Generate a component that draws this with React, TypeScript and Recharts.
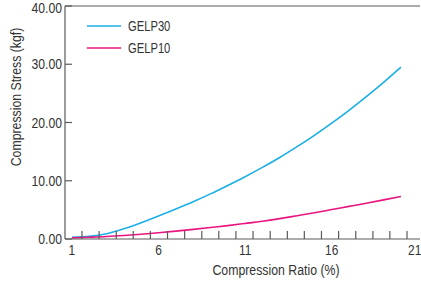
import React from "react";
import { LineChart, Line, XAxis, YAxis, Legend, ReferenceLine } from "recharts";

const ratios = [1, 2, 3, 4, 5, 6, 7, 8, 9, 10, 11, 12, 13, 14, 15, 16, 17, 18, 19, 20];
const gelp30 = [0.3, 0.45, 0.9, 1.75, 2.8, 3.95, 5.15, 6.4, 7.75, 9.2, 10.7, 12.3, 14.0, 15.85, 17.8, 19.9, 22.1, 24.45, 26.9, 29.5];
const gelp10 = [0.2, 0.3, 0.42, 0.6, 0.82, 1.07, 1.35, 1.65, 1.97, 2.3, 2.67, 3.05, 3.5, 4.0, 4.5, 5.05, 5.6, 6.15, 6.72, 7.3];

const seriesOrder = ["GELP30", "GELP10"];
const xLabels = [1, 6, 11, 16, 21];
const xMinorTicks = [1.58, 2.57, 3.56, 4.54, 5.53, 6.52, 7.51, 8.5, 9.48, 10.47, 11.46, 12.45, 13.44, 14.42, 15.41, 16.4, 17.39, 18.38, 19.36, 20.35];
const yTicks = [0, 10, 20, 30, 40];

const data = ratios.map((r, i) => ({ ratio: r, gelp30: gelp30[i], gelp10: gelp10[i] }));
const xTicks = [...xLabels, ...xMinorTicks].sort((a, b) => a - b);

const FONT = "'Liberation Sans', Arial, sans-serif";
const AXIS = "#5a5a5a";
const TEXT = "#333";

// condensed text: regular sans squeezed horizontally
const CText = ({ x, y, size, sx, anchor = "middle", rotate = 0, dy, children }: any) => (
  <text
    transform={`translate(${x},${y}) rotate(${rotate}) scale(${sx},1)`}
    textAnchor={anchor}
    dy={dy}
    fill={TEXT}
    fontSize={size}
    fontFamily={FONT}
  >
    {children}
  </text>
);

const XTick = (props: any) => {
  const { x, y, payload } = props;
  if (xLabels.includes(payload.value)) {
    const last = payload.value === xLabels[xLabels.length - 1];
    return (
      <CText x={last ? x + 3 : x} y={y + 16} size={14} sx={0.85} anchor={last ? "end" : "middle"}>
        {payload.value}
      </CText>
    );
  }
  return <line x1={x} x2={x} y1={y} y2={y - 8} stroke={AXIS} strokeWidth={1.2} />;
};

const YTick = (props: any) => {
  const { x, y, payload } = props;
  const top = payload.value === yTicks[yTicks.length - 1];
  return (
    <g>
      <line x1={x} x2={x + 7} y1={y} y2={y} stroke={AXIS} strokeWidth={1.2} />
      <CText x={x - 3} y={top ? y + 1.5 : y} dy="0.36em" size={14} sx={0.87} anchor="end">
        {payload.value.toFixed(2)}
      </CText>
    </g>
  );
};

const LegendBox = (props: any) => {
  const items = [...props.payload].sort(
    (a: any, b: any) => seriesOrder.indexOf(a.value) - seriesOrder.indexOf(b.value)
  );
  return (
    <div style={{ fontFamily: FONT, fontSize: 14, color: TEXT }}>
      {items.map((p: any) => (
        <div key={p.value} style={{ display: "flex", alignItems: "center", height: 22 }}>
          <svg width={34} height={4} style={{ marginRight: 7 }}>
            <line x1={0} x2={34} y1={2} y2={2} stroke={p.color} strokeWidth={1.5} />
          </svg>
          <span style={{ display: "inline-block", transform: "scaleX(0.8)", transformOrigin: "left center" }}>
            {p.value}
          </span>
        </div>
      ))}
    </div>
  );
};

export default function App() {
  return (
    <div style={{ position: "absolute", left: 0, top: 0, width: 421, height: 281, background: "#fff" }}>
      <LineChart width={421} height={281} data={data} margin={{ top: 6, right: 1, bottom: 0, left: 0 }}>
        <XAxis
          dataKey="ratio"
          type="number"
          domain={[0.6, 21.1]}
          ticks={xTicks}
          interval={0}
          allowDataOverflow
          height={42}
          tickSize={0}
          tickMargin={0}
          tickLine={false}
          tick={<XTick />}
          axisLine={{ stroke: AXIS, strokeWidth: 1.2 }}
          label={{
            content: () => (
              <CText x={276} y={275} size={15} sx={0.82}>
                Compression Ratio (%)
              </CText>
            ),
          }}
        />
        <YAxis
          type="number"
          domain={[0, 40]}
          ticks={yTicks}
          interval={0}
          width={65}
          tickSize={0}
          tickMargin={0}
          tickLine={false}
          tick={<YTick />}
          axisLine={{ stroke: AXIS, strokeWidth: 1.2 }}
          label={{
            content: () => (
              <CText x={21} y={97} rotate={-90} size={15} sx={0.82}>
                Compression Stress (kgf)
              </CText>
            ),
          }}
        />
        <ReferenceLine y={40} stroke={AXIS} strokeWidth={1.2} />
        <Legend
          align="center"
          verticalAlign="middle"
          content={<LegendBox />}
          wrapperStyle={{ left: 87, top: 15, width: "auto" }}
        />
        <Line
          type="monotone"
          dataKey="gelp30"
          name="GELP30"
          stroke="#1aafe6"
          strokeWidth={1.6}
          dot={false}
          isAnimationActive={false}
        />
        <Line
          type="monotone"
          dataKey="gelp10"
          name="GELP10"
          stroke="#e8157f"
          strokeWidth={1.6}
          dot={false}
          isAnimationActive={false}
        />
      </LineChart>
    </div>
  );
}
